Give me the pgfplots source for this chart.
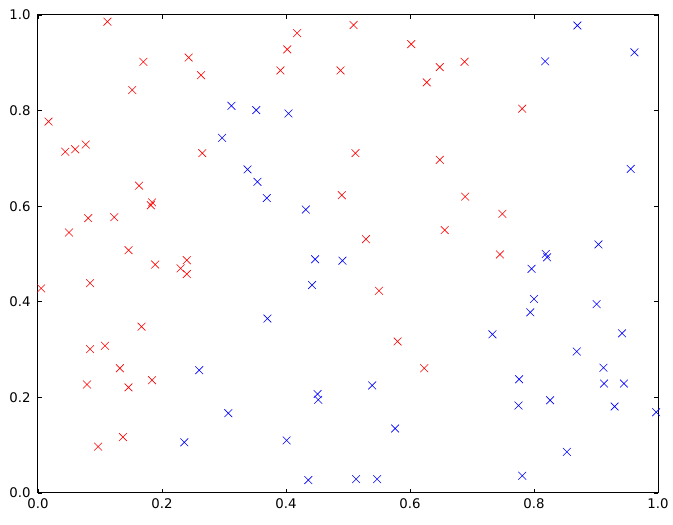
\documentclass[border=0pt]{standalone}
\usepackage{pgfplots}
\pgfplotsset{compat=1.18}
\usepackage{fontspec}
\setmainfont{DejaVu Sans}

\begin{document}
\begin{tikzpicture}
% fixed frame: one pt per pixel of the 673x525 reference
\path[use as bounding box] (-38pt,-32pt) rectangle (635pt,493pt);
\begin{axis}[
  at={(0,0)}, anchor=south west,
  scale only axis,
  width=620pt, height=478pt,
  xmin=0, xmax=1, ymin=0, ymax=1,
  xtick={0,0.2,0.4,0.6,0.8,1.0},
  ytick={0,0.2,0.4,0.6,0.8,1.0},
  minor tick num=0,
  tick align=inside,
  major tick length=4.4pt,
  tick style={black, line width=0.8pt},
  axis line style={black, line width=1pt},
  font=\fontsize{13.3}{16}\selectfont,
  /pgf/number format/assume math mode=true,
  /pgf/number format/.cd, fixed, fixed zerofill, precision=1,
  /tikz/.cd,
  xticklabel style={yshift=-2pt},
  yticklabel style={xshift=-4pt},
]
\addplot[only marks, mark=x, mark size=5.5pt, red, line width=0.6pt] coordinates {
  (0.112,0.986) (0.170,0.902) (0.243,0.911) (0.263,0.874) (0.152,0.843)
  (0.017,0.777) (0.044,0.714) (0.060,0.719) (0.077,0.729) (0.265,0.711)
  (0.163,0.643) (0.184,0.608) (0.182,0.602) (0.081,0.575) (0.123,0.577)
  (0.050,0.545) (0.146,0.508) (0.189,0.478) (0.240,0.487) (0.230,0.470)
  (0.240,0.458) (0.084,0.439) (0.005,0.428) (0.167,0.348) (0.084,0.301)
  (0.108,0.308) (0.132,0.261) (0.079,0.227) (0.146,0.221) (0.184,0.236)
  (0.137,0.117) (0.097,0.097)
  (0.418,0.962) (0.509,0.979) (0.402,0.928) (0.602,0.939) (0.391,0.884)
  (0.488,0.884) (0.648,0.891) (0.627,0.859) (0.512,0.711) (0.648,0.697)
  (0.490,0.623) (0.656,0.550) (0.529,0.531) (0.688,0.902) (0.781,0.804)
  (0.689,0.620) (0.749,0.584) (0.745,0.499) (0.550,0.423) (0.580,0.317)
  (0.623,0.261)
};
\addplot[only marks, mark=x, mark size=5.5pt, blue, line width=0.6pt] coordinates {
  (0.260,0.257) (0.307,0.167) (0.236,0.106) (0.312,0.810) (0.297,0.743)
  (0.352,0.801) (0.404,0.794) (0.338,0.677) (0.354,0.651) (0.369,0.617)
  (0.432,0.593) (0.870,0.978) (0.962,0.922) (0.818,0.903) (0.956,0.678)
  (0.904,0.520) (0.819,0.500) (0.821,0.493) (0.796,0.469) (0.800,0.406)
  (0.901,0.395) (0.794,0.378) (0.733,0.332) (0.942,0.334) (0.869,0.296)
  (0.912,0.262) (0.776,0.238) (0.913,0.229) (0.945,0.229) (0.775,0.183)
  (0.826,0.194) (0.930,0.181) (0.997,0.169) (0.853,0.086) (0.781,0.036)
  (0.447,0.489) (0.491,0.486) (0.442,0.435) (0.370,0.365) (0.539,0.225)
  (0.451,0.207) (0.452,0.195) (0.576,0.135) (0.401,0.110) (0.436,0.027)
  (0.513,0.029) (0.547,0.029)
};
\end{axis}
\end{tikzpicture}
\end{document}
